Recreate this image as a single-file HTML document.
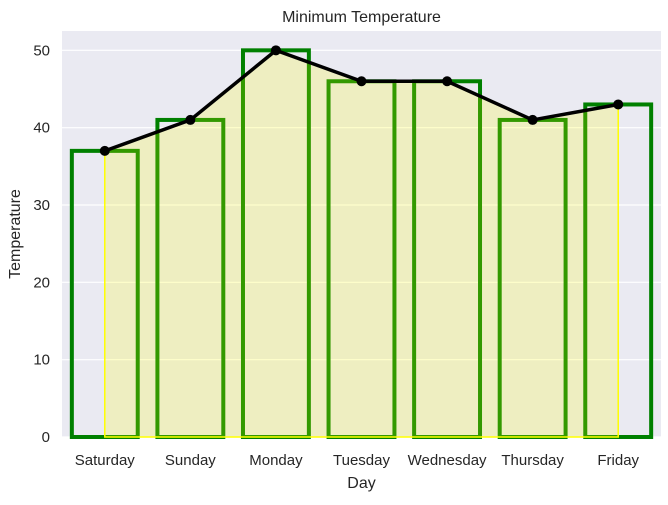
<!DOCTYPE html>
<html><head><meta charset="utf-8"><style>
body{margin:0;background:#fff;font-family:"Liberation Sans",sans-serif}
</style></head><body>
<svg id="c" width="668" height="500" xmlns="http://www.w3.org/2000/svg"></svg>
<script>
const categories=["Saturday","Sunday","Monday","Tuesday","Wednesday","Thursday","Friday"];
const values=[37,41,50,46,46,41,43];
const yTicks=[0,10,20,30,40,50];
const svg=document.getElementById('c');
const NS="http://www.w3.org/2000/svg";
const L=62,R=661,T=31,B=437,yMax=52.5;
const step=(R-L)/categories.length;
const x=i=>L+step*(i+0.5);
const y=v=>B-(v/yMax)*(B-T);
function mk(t,a,p){const e=document.createElementNS(NS,t);for(const k in a)e.setAttribute(k,a[k]);(p||svg).appendChild(e);return e;}
const bg=mk('rect',{x:L,y:T,width:R-L,height:B-T,fill:'#eaeaf2'});


yTicks.forEach(t=>{
 const g=mk('line',{x1:L,x2:R,y1:y(t),y2:y(t),stroke:'#fff','stroke-width':1.2});
 
 
 const tx=mk('text',{x:L-12,y:y(t)+5,'text-anchor':'end','font-size':15,fill:'#262626'});
 tx.textContent=t;
 
 
});
const bw=step*0.77;
categories.forEach((c,i)=>{
 const r=mk('rect',{x:x(i)-bw/2,y:y(values[i]),width:bw,height:B-y(values[i]),fill:'none',stroke:'#008000','stroke-width':4});
 
 
 const tx=mk('text',{x:x(i),y:B+28,'text-anchor':'middle','font-size':15,fill:'#262626'});
 tx.textContent=c;
 
 
});
let d='M'+x(0)+','+B;
values.forEach((v,i)=>d+=' L'+x(i)+','+y(v));
d+=' L'+x(values.length-1)+','+B+' Z';
const area=mk('path',{d:d,fill:'rgba(255,255,0,0.2)',stroke:'#ffff00','stroke-width':1.5});


const pts=values.map((v,i)=>x(i)+','+y(v)).join(' ');
const ln=mk('polyline',{points:pts,fill:'none',stroke:'#000','stroke-width':3.5});


values.forEach((v,i)=>{
 const p=mk('circle',{cx:x(i),cy:y(v),r:5,fill:'#000'});
 
 
});
const title=mk('text',{x:(L+R)/2,y:22,'text-anchor':'middle','font-size':16,fill:'#262626'});
title.textContent='Minimum Temperature';


const xl=mk('text',{x:(L+R)/2,y:488,'text-anchor':'middle','font-size':16,fill:'#262626'});
xl.textContent='Day';


const yl=mk('text',{x:0,y:0,'text-anchor':'middle','font-size':16,fill:'#262626',transform:'translate(20,'+((T+B)/2)+') rotate(-90)'});
yl.textContent='Temperature';


</script>
</body></html>
